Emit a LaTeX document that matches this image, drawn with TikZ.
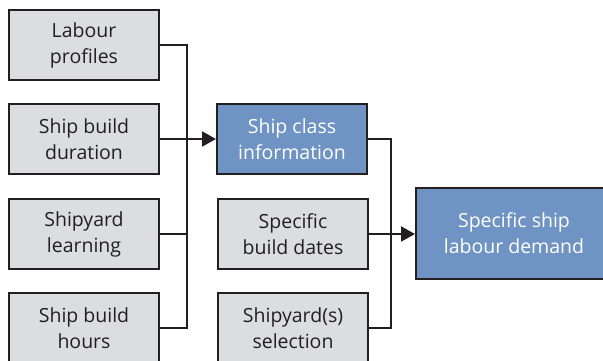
\documentclass[tikz,border=0pt]{standalone}
\usepackage{fontspec}
\setmainfont{Open Sans}
\usetikzlibrary{arrows.meta}
\definecolor{boxgrey}{HTML}{DCDDDF}
\definecolor{boxblue}{HTML}{6F93C2}
\definecolor{edge}{HTML}{231F20}
\tikzset{
  base/.style={draw=edge, line width=2pt, minimum width=150pt, minimum height=70pt,
    align=center, inner sep=0pt, font=\fontsize{19.5}{26}\selectfont, anchor=north west},
  greybox/.style={base, fill=boxgrey, text=edge},
  bluebox/.style={base, fill=boxblue, text=white},
  link/.style={draw=edge, line width=2pt},
  feed/.style={link, -{Triangle[length=14pt, width=15pt]}}
}
\begin{document}
\begin{tikzpicture}[x=1pt, y=-1pt]
  \useasboundingbox (0,0) rectangle (603,361);
  \begin{scope}
    \clip (0,0) rectangle (603,361);
    % input factors
    \node[greybox] (lab) at (8,9)   {Labour\\profiles};
    \node[greybox] (dur) at (8,103) {Ship build\\duration};
    \node[greybox] (lrn) at (8,198) {Shipyard\\learning};
    \node[greybox] (hrs) at (8,292) {Ship build\\hours};
    % intermediate
    \node[bluebox] (cls) at (216,103) {Ship class\\information};
    \node[greybox] (dts) at (217,198) {Specific\\build dates};
    \node[greybox] (yrd) at (217,292) {Shipyard(s)\\selection};
    % result
    \node[bluebox, minimum width=196pt, minimum height=91pt] (dem) at (415,187) {Specific ship\\labour demand};
    % first collector
    \coordinate (busA) at (187,0);
    \draw[link] (lab.east) -| (busA |- hrs.east) -- (hrs.east);
    \draw[link] (lrn.east) -- (busA |- lrn.east);
    \draw[feed] (dur.east) -- (cls.west);
    % second collector
    \coordinate (busB) at (391,0);
    \draw[link] (cls.east) -| (busB |- yrd.east) -- (yrd.east);
    \draw[feed] (dts.east) -- (dts.east -| dem.west);
  \end{scope}
\end{tikzpicture}
\end{document}
